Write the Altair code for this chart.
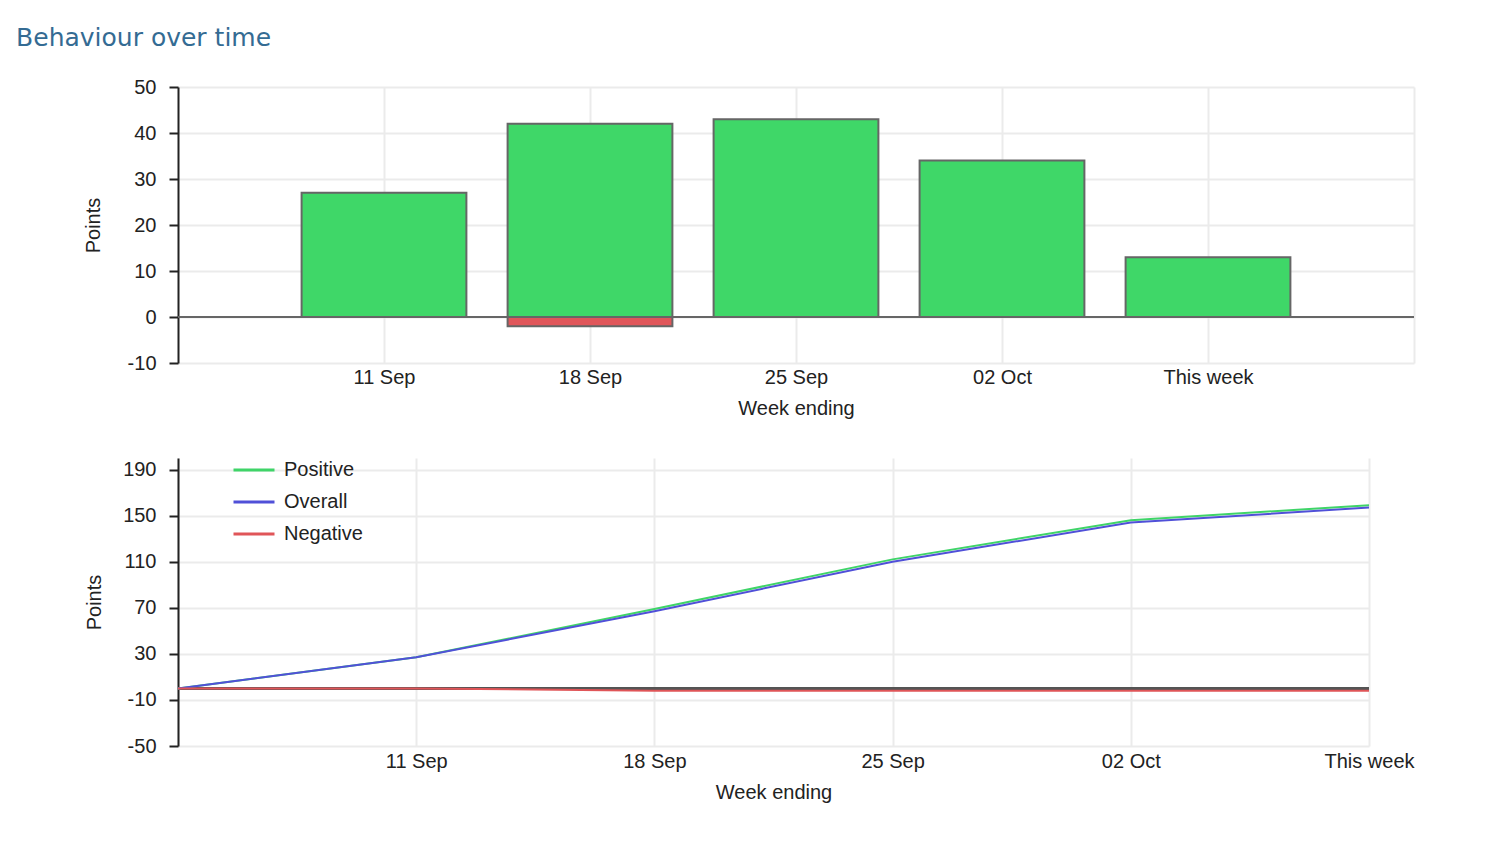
import altair as alt
import pandas as pd

# ---- data ----
weeks = ["11 Sep", "18 Sep", "25 Sep", "02 Oct", "This week"]
positive = [27, 42, 43, 34, 13]
negative = [0, -2, 0, 0, 0]

line_weeks = ["", "11 Sep", "18 Sep", "25 Sep", "02 Oct", "This week"]
cum_positive = [0, 27, 69, 112, 146, 159]
cum_overall = [0, 27, 67, 110, 144, 157]
cum_negative = [0, 0, -2, -2, -2, -2]

series_names = ["Positive", "Overall", "Negative"]
series_colors = ["#3fd468", "#5050d8", "#e05558"]

GREEN = "#3fd768"
RED = "#e0565a"
GRID = "#ebebeb"
FONT = "Liberation Sans"

bar_df = pd.DataFrame({"idx": list(range(1, len(weeks) + 1)), "week": weeks,
                       "pos": positive, "neg": negative})

rows = []
for i, w in enumerate(line_weeks):
    rows.append({"idx": i, "week": w, "series": "Positive", "value": cum_positive[i]})
    rows.append({"idx": i, "week": w, "series": "Overall", "value": cum_overall[i]})
    rows.append({"idx": i, "week": w, "series": "Negative", "value": cum_negative[i]})
line_df = pd.DataFrame(rows)

top_lab = "[" + ",".join("'%s'" % w for w in [""] + weeks + [""]) + "][datum.value]"
bot_lab = "[" + ",".join("'%s'" % w for w in line_weeks) + "][datum.value]"
num_lab = "'' + datum.value"

axis_common = dict(labelFont=FONT, titleFont=FONT, labelFontSize=20, titleFontSize=20,
                   labelColor="#222", titleColor="#222", titleFontWeight="normal",
                   gridColor=GRID, gridWidth=2)

x_top = alt.Scale(domain=[0, 6], nice=False, zero=False)
y_top = alt.Scale(domain=[-10, 50], nice=False)

xaxis_top = alt.Axis(values=[1, 2, 3, 4, 5, 6], labelExpr=top_lab, title="Week ending",
                     grid=True, ticks=False, domain=False, labelPadding=4, titlePadding=11,
                     labelFlush=False, **axis_common)
yaxis_top = alt.Axis(values=[-10, 0, 10, 20, 30, 40, 50], labelExpr=num_lab, title="Points",
                     grid=True, domainColor="#222", domainWidth=2, tickColor="#222",
                     tickWidth=2, tickSize=9, labelPadding=13, titlePadding=24, **axis_common)

base = alt.Chart(bar_df).transform_calculate(x0="datum.idx - 0.4", x1="datum.idx + 0.4")

pos_bars = base.mark_rect(color=GREEN, stroke="#666", strokeWidth=2).encode(
    x=alt.X("x0:Q", scale=x_top, axis=xaxis_top),
    x2="x1:Q",
    y=alt.Y("pos:Q", scale=y_top, axis=yaxis_top),
    y2=alt.datum(0),
)
neg_bars = base.transform_filter("datum.neg < 0").mark_rect(color=RED, stroke="#666", strokeWidth=2).encode(
    x=alt.X("x0:Q", scale=x_top),
    x2="x1:Q",
    y=alt.Y("neg:Q", scale=y_top),
    y2=alt.datum(0),
)
zero_top = alt.Chart(bar_df).mark_rule(color="#666", strokeWidth=2).encode(
    y=alt.Y(datum=0, scale=y_top))

top = alt.layer(pos_bars, neg_bars, zero_top).properties(width=1236, height=276)

x_bot = alt.Scale(domain=[0, 5], nice=False, zero=False)
y_bot = alt.Scale(domain=[-50, 200], nice=False)

xaxis_bot = alt.Axis(values=[0, 1, 2, 3, 4, 5], labelExpr=bot_lab, title="Week ending",
                     grid=True, ticks=False, domain=False, labelPadding=5, titlePadding=11,
                     labelFlush=False, **axis_common)
yaxis_bot = alt.Axis(values=[-50, -10, 30, 70, 110, 150, 190], labelExpr=num_lab,
                     title="Points", grid=True, domainColor="#222", domainWidth=2,
                     tickColor="#222", tickWidth=2, tickSize=9, labelPadding=13,
                     titlePadding=18, **axis_common)

zero_bot = alt.Chart(line_df).mark_rule(color="#555", strokeWidth=2).encode(
    y=alt.Y(datum=0, scale=y_bot, axis=yaxis_bot))

lines = alt.Chart(line_df).mark_line(strokeWidth=2).encode(
    x=alt.X("idx:Q", scale=x_bot, axis=xaxis_bot),
    y=alt.Y("value:Q", scale=y_bot, axis=yaxis_bot),
    color=alt.Color("series:N",
                    scale=alt.Scale(domain=series_names, range=series_colors),
                    legend=alt.Legend(title=None, orient="none", legendX=54, legendY=-10,
                                      symbolType="stroke", symbolSize=1681,
                                      symbolStrokeWidth=3, labelFont=FONT, labelFontSize=20,
                                      labelColor="#222", labelOffset=8, rowPadding=-15)),
    order=alt.Order("idx:Q"),
)

bottom = alt.layer(zero_bot, lines).properties(width=1191, height=288)

chart = alt.vconcat(top, bottom, spacing=30).resolve_legend(color="independent").properties(
    title=alt.TitleParams("Behaviour over time", anchor="start", font="DejaVu Sans",
                          fontSize=25, fontWeight="normal", color="#346b93",
                          dx=-67, offset=26),
    padding={"left": 8, "top": 18, "right": 5, "bottom": 5},
).configure_view(stroke=None)

chart.save("out.html", embed_options={"renderer": "svg", "actions": False})
